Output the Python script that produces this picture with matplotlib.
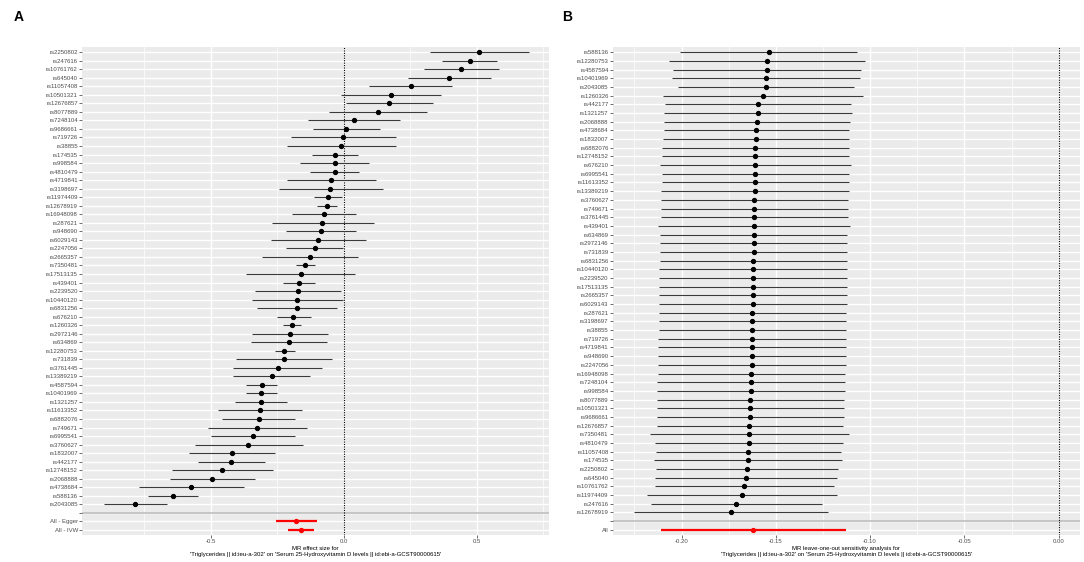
import matplotlib
matplotlib.use("Agg")
import matplotlib.pyplot as plt
import numpy as np

plt.rcParams['font.family'] = ['Liberation Sans', 'DejaVu Sans']

# ---- panel A: single SNP forest plot ----
snps_a = ["rs2250802", "rs247616", "rs10761762", "rs645040", "rs11057408", "rs10501321",
          "rs12676857", "rs8077889", "rs7248104", "rs9686661", "rs719726", "rs38855",
          "rs174535", "rs998584", "rs4810479", "rs4719841", "rs3198697", "rs11974409",
          "rs12678919", "rs16948098", "rs287621", "rs948690", "rs6029143", "rs2247056",
          "rs2665357", "rs7350481", "rs17513135", "rs439401", "rs2239520", "rs10440120",
          "rs6831256", "rs676210", "rs1260326", "rs2972146", "rs634869", "rs12280753",
          "rs731839", "rs3761445", "rs13389219", "rs4587594", "rs10401969", "rs1321257",
          "rs11613352", "rs6882076", "rs749671", "rs6995541", "rs3760627", "rs1832007",
          "rs442177", "rs12748152", "rs2068888", "rs4738684", "rs588136", "rs2043085"]
b_a = [0.509, 0.472, 0.440, 0.395, 0.251, 0.175, 0.169, 0.128, 0.036, 0.009, -0.003, -0.010,
       -0.034, -0.035, -0.035, -0.048, -0.051, -0.059, -0.063, -0.075, -0.082, -0.088, -0.097,
       -0.109, -0.127, -0.147, -0.163, -0.170, -0.174, -0.177, -0.177, -0.191, -0.195, -0.204,
       -0.207, -0.224, -0.227, -0.249, -0.272, -0.309, -0.311, -0.312, -0.317, -0.321, -0.326,
       -0.342, -0.360, -0.420, -0.425, -0.457, -0.495, -0.575, -0.644, -0.787]
lo_a = [0.323, 0.368, 0.300, 0.241, 0.094, -0.012, 0.008, -0.055, -0.135, -0.117, -0.199, -0.216,
        -0.119, -0.165, -0.128, -0.214, -0.246, -0.112, -0.100, -0.194, -0.272, -0.219, -0.274,
        -0.219, -0.307, -0.180, -0.368, -0.229, -0.336, -0.347, -0.326, -0.253, -0.229, -0.345,
        -0.348, -0.260, -0.406, -0.417, -0.416, -0.367, -0.368, -0.409, -0.475, -0.459, -0.511,
        -0.501, -0.560, -0.582, -0.549, -0.645, -0.653, -0.771, -0.738, -0.903]
hi_a = [0.694, 0.576, 0.583, 0.551, 0.408, 0.365, 0.333, 0.313, 0.212, 0.134, 0.195, 0.195,
        0.051, 0.095, 0.058, 0.120, 0.145, -0.006, -0.025, 0.046, 0.112, 0.045, 0.081,
        -0.003, 0.054, -0.110, 0.043, -0.110, -0.012, -0.004, -0.026, -0.125, -0.160, -0.061,
        -0.063, -0.185, -0.046, -0.082, -0.128, -0.253, -0.251, -0.214, -0.158, -0.183, -0.139,
        -0.183, -0.155, -0.258, -0.298, -0.268, -0.336, -0.376, -0.548, -0.667]
sum_labels_a = ["All - Egger", "All - IVW"]
sum_b_a = [-0.180, -0.162]
sum_lo_a = [-0.256, -0.211]
sum_hi_a = [-0.102, -0.113]

# ---- panel B: leave-one-out ----
snps_b = ["rs588136", "rs12280753", "rs4587594", "rs10401969", "rs2043085", "rs1260326",
          "rs442177", "rs1321257", "rs2068888", "rs4738684", "rs1832007", "rs6882076",
          "rs12748152", "rs676210", "rs6995541", "rs11613352", "rs13389219", "rs3760627",
          "rs749671", "rs3761445", "rs439401", "rs634869", "rs2972146", "rs731839",
          "rs6831256", "rs10440120", "rs2239520", "rs17513135", "rs2665357", "rs6029143",
          "rs287621", "rs3198697", "rs38855", "rs719726", "rs4719841", "rs948690",
          "rs2247056", "rs16948098", "rs7248104", "rs998584", "rs8077889", "rs10501321",
          "rs9686661", "rs12676857", "rs7350481", "rs4810479", "rs11057408", "rs174535",
          "rs2250802", "rs645040", "rs10761762", "rs11974409", "rs247616", "rs12678919"]
b_b = [-0.1538, -0.1548, -0.1548, -0.1552, -0.1554, -0.1570, -0.1594, -0.1596, -0.1601, -0.1605,
       -0.1607, -0.1609, -0.1609, -0.1610, -0.1610, -0.1612, -0.1612, -0.1614, -0.1614, -0.1616,
       -0.1616, -0.1616, -0.1617, -0.1617, -0.1621, -0.1621, -0.1619, -0.1619, -0.1623, -0.1623,
       -0.1625, -0.1625, -0.1626, -0.1628, -0.1628, -0.1628, -0.1628, -0.1630, -0.1632, -0.1634,
       -0.1635, -0.1637, -0.1639, -0.1640, -0.1642, -0.1644, -0.1646, -0.1649, -0.1651, -0.1658,
       -0.1667, -0.1679, -0.1711, -0.1738]
lo_b = [-0.2006, -0.2068, -0.2047, -0.2050, -0.2019, -0.2098, -0.2087, -0.2093, -0.2093, -0.2094,
        -0.2098, -0.2103, -0.2101, -0.2114, -0.2105, -0.2105, -0.2107, -0.2107, -0.2109, -0.2110,
        -0.2123, -0.2114, -0.2114, -0.2114, -0.2116, -0.2118, -0.2118, -0.2118, -0.2118, -0.2120,
        -0.2120, -0.2122, -0.2122, -0.2123, -0.2123, -0.2125, -0.2125, -0.2127, -0.2128, -0.2128,
        -0.2128, -0.2128, -0.2132, -0.2132, -0.2167, -0.2139, -0.2137, -0.2144, -0.2137, -0.2139,
        -0.2141, -0.2181, -0.2163, -0.2252]
hi_b = [-0.1068, -0.1029, -0.1050, -0.1054, -0.1087, -0.1039, -0.1101, -0.1098, -0.1107, -0.1110,
        -0.1110, -0.1112, -0.1113, -0.1103, -0.1113, -0.1113, -0.1113, -0.1117, -0.1117, -0.1117,
        -0.1108, -0.1121, -0.1121, -0.1121, -0.1123, -0.1123, -0.1123, -0.1123, -0.1124, -0.1124,
        -0.1126, -0.1126, -0.1128, -0.1130, -0.1130, -0.1130, -0.1130, -0.1131, -0.1135, -0.1135,
        -0.1137, -0.1140, -0.1140, -0.1145, -0.1113, -0.1145, -0.1154, -0.1149, -0.1169, -0.1174,
        -0.1191, -0.1174, -0.1255, -0.1223]
sum_labels_b = ["All"]
sum_b_b = [-0.1619]
sum_lo_b = [-0.2110]
sum_hi_b = [-0.1128]

xlab_a = "MR effect size for\n'Triglycerides || id:ieu-a-302' on 'Serum 25-Hydroxyvitamin D levels || id:ebi-a-GCST90000615'"
xlab_b = "MR leave-one-out sensitivity analysis for\n'Triglycerides || id:ieu-a-302' on 'Serum 25-Hydroxyvitamin D levels || id:ebi-a-GCST90000615'"


def forest(ax, snps, b, lo, hi, slabels, sb, slo, shi, xlim, xmajor, xminor, fmt, xlabel):
    n = len(snps)
    labels = list(snps) + [""] + list(slabels)
    ypos = np.arange(len(labels))
    ys = ypos[:n]
    ysum = ypos[n + 1:]

    ax.set_facecolor("#EBEBEB")
    for x in xminor:
        ax.axvline(x, color="white", lw=0.5, zorder=0)
    for x in xmajor:
        ax.axvline(x, color="white", lw=1.0, zorder=0)
    for y in ypos:
        ax.axhline(y, color="white", lw=1.0, zorder=0)

    # grey line on the empty row between SNPs and the summary rows
    ax.axhline(n, color="#BEBEBE", lw=1.2, zorder=1)
    ax.axvline(0, color="black", lw=0.8, ls=(0, (1, 1.2)), zorder=2)

    ax.hlines(ys, lo, hi, color="#3a3a3a", lw=0.8, zorder=3)
    ax.plot(b, ys, "o", color="black", ms=2.8, zorder=4)
    ax.hlines(ysum, slo, shi, color="red", lw=1.6, zorder=3)
    ax.plot(sb, ysum, "o", color="red", ms=2.8, zorder=4)

    ax.set_xlim(*xlim)
    ax.set_ylim(len(labels) - 0.4, -0.6)
    ax.set_yticks(ypos)
    ax.set_yticklabels(labels)
    ax.set_xticks(xmajor)
    ax.set_xticklabels([fmt % v for v in xmajor])
    for s in ax.spines.values():
        s.set_visible(False)
    ax.tick_params(axis="both", labelsize=4.3, labelcolor="#4D4D4D", color="#333333",
                   length=2, width=0.5, pad=1)
    ax.set_xlabel(xlabel, fontsize=4.3, labelpad=1.5, linespacing=1.1)


fig = plt.figure(figsize=(10.84, 5.62), dpi=100)
ax1 = fig.add_axes([0.0756, 0.048, 0.4309, 0.8683])
ax2 = fig.add_axes([0.5652, 0.048, 0.4311, 0.8683])

forest(ax1, snps_a, b_a, lo_a, hi_a, sum_labels_a, sum_b_a, sum_lo_a, sum_hi_a,
       (-0.985, 0.771), [-0.5, 0.0, 0.5], [-0.75, -0.25, 0.25, 0.75], "%.1f", xlab_a)
forest(ax2, snps_b, b_b, lo_b, hi_b, sum_labels_b, sum_b_b, sum_lo_b, sum_hi_b,
       (-0.2365, 0.0113), [-0.20, -0.15, -0.10, -0.05, 0.0],
       [-0.225, -0.175, -0.125, -0.075, -0.025], "%.2f", xlab_b)

fig.text(0.0175, 0.97, "A", fontsize=10, fontweight="bold", ha="center", va="center")
fig.text(0.523, 0.97, "B", fontsize=10, fontweight="bold", ha="center", va="center")

fig.savefig("out.png", dpi=100)
